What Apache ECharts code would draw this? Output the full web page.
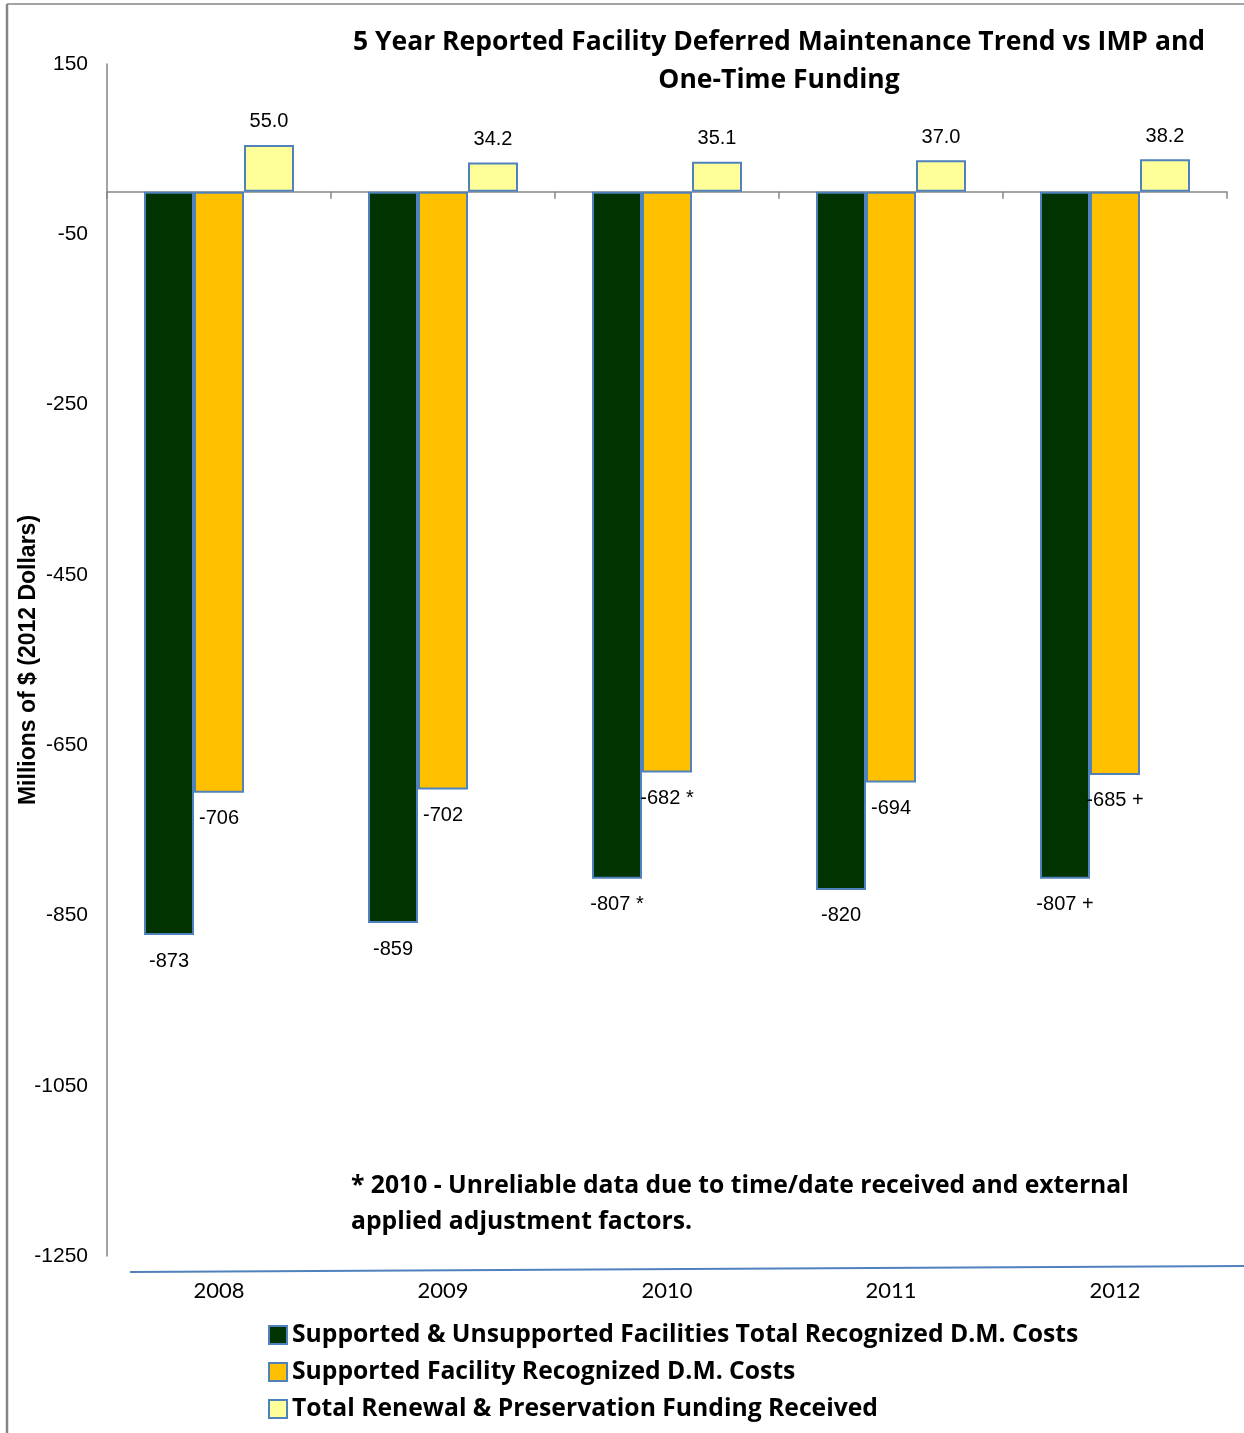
<!DOCTYPE html>
<html>
<head>
<meta charset="utf-8">
<script src="https://cdn.jsdelivr.net/npm/echarts@6/dist/echarts.min.js"></script>
<style>
html,body{margin:0;padding:0;background:#fff;}
#chart{width:1244px;height:1433px;}
</style>
</head>
<body>
<div id="chart"></div>
<script>
const categories = ['2008', '2009', '2010', '2011', '2012'];
const seriesNames = [
  'Supported & Unsupported Facilities Total Recognized D.M. Costs',
  'Supported Facility Recognized D.M. Costs',
  'Total Renewal & Preservation Funding Received'
];
const totalDM = [-873, -859, -807, -820, -807];
const supportedDM = [-706, -702, -682, -694, -685];
const funding = [55.0, 34.2, 35.1, 37.0, 38.2];
const totalDMNotes = ['', '', ' *', '', ' +'];
const supportedDMNotes = ['', '', ' *', '', ' +'];
const yMin = -1250, yMax = 150, yStep = 200;
const titleText = '5 Year Reported Facility Deferred Maintenance Trend vs IMP and\nOne-Time Funding';
const yName = 'Millions of $ (2012 Dollars)';
const footnote = '* 2010 - Unreliable data due to time/date received and external\napplied adjustment factors.';

const BOLD_FONT = 'Open Sans';
const BORDER = '#4F81BD';
const AXIS = '#868686';

const chart = echarts.init(document.getElementById('chart'));

const labelStyle = {fontFamily: 'Liberation Sans, Arial', fontSize: 20, color: '#000'};

chart.setOption({
  backgroundColor: '#fff',
  animation: false,
  title: {
    text: titleText,
    left: 774,
    top: 18,
    textAlign: 'center',
    textStyle: {fontFamily: BOLD_FONT, fontWeight: 'bold', fontSize: 26.5, lineHeight: 38, color: '#000'}
  },
  grid: {left: 107, top: 64, right: 17, bottom: 177, containLabel: false, outerBoundsMode: 'none'},
  legend: {
    orient: 'vertical',
    left: 268,
    top: 1320,
    padding: 0,
    itemWidth: 18,
    itemHeight: 18,
    itemGap: 7,
    icon: 'rect',
    data: seriesNames,
    textStyle: {fontFamily: BOLD_FONT, fontWeight: 'bold', fontSize: 24.7, lineHeight: 30, color: '#000'}
  },
  xAxis: [
    {
      type: 'category',
      data: categories,
      position: 'bottom',
      axisLine: {onZero: true, lineStyle: {color: AXIS, width: 1.5}},
      axisTick: {show: true, length: 7, lineStyle: {color: AXIS, width: 1.5}},
      axisLabel: {show: false},
      splitLine: {show: false}
    },
    {
      type: 'category',
      data: categories,
      position: 'bottom',
      axisLine: {show: false, onZero: false},
      axisTick: {show: false},
      axisLabel: {show: true, margin: 24, fontFamily: 'Lato', fontSize: 22, color: '#000'},
      splitLine: {show: false}
    }
  ],
  yAxis: {
    type: 'value',
    min: yMin,
    max: yMax,
    interval: yStep,
    name: yName,
    nameLocation: 'middle',
    nameGap: 67,
    nameMoveOverlap: false,
    nameTextStyle: {fontFamily: 'Liberation Sans, Arial', fontWeight: 'bold', fontSize: 23, color: '#000'},
    axisLine: {show: true, lineStyle: {color: AXIS, width: 1.5}},
    axisTick: {show: false},
    splitLine: {show: false},
    axisLabel: {margin: 19, fontFamily: 'Liberation Sans, Arial', fontSize: 21, color: '#000', formatter: v => String(v)}
  },
  series: [
    {
      name: seriesNames[0],
      type: 'bar',
      data: totalDM,
      barWidth: 50,
      barGap: '0%',
      itemStyle: {color: '#003300', borderColor: BORDER, borderWidth: 2},
      label: {
        show: true, position: 'bottom', distance: 16, ...labelStyle,
        formatter: p => p.value + totalDMNotes[p.dataIndex]
      }
    },
    {
      name: seriesNames[1],
      type: 'bar',
      data: supportedDM,
      barWidth: 50,
      barGap: '0%',
      itemStyle: {color: '#FFC000', borderColor: BORDER, borderWidth: 2},
      label: {
        show: true, position: 'bottom', distance: 16, ...labelStyle,
        formatter: p => p.value + supportedDMNotes[p.dataIndex]
      }
    },
    {
      name: seriesNames[2],
      type: 'bar',
      data: funding,
      barWidth: 50,
      barGap: '0%',
      itemStyle: {color: '#FFFF99', borderColor: BORDER, borderWidth: 2},
      label: {
        show: true, position: 'top', distance: 13, ...labelStyle,
        formatter: p => Number(p.value).toFixed(1)
      }
    }
  ],
  graphic: [
    {type: 'line', shape: {x1: 7, y1: 4, x2: 1244, y2: 4}, style: {stroke: AXIS, lineWidth: 1.5}, silent: true},
    {type: 'line', shape: {x1: 7, y1: 4, x2: 7, y2: 1433}, style: {stroke: AXIS, lineWidth: 2.5}, silent: true},
    {type: 'line', shape: {x1: 130, y1: 1272, x2: 1244, y2: 1266}, style: {stroke: BORDER, lineWidth: 2}, silent: true},
    {
      type: 'text', left: 351, top: 1168, silent: true,
      style: {text: footnote, fontFamily: BOLD_FONT, fontWeight: 'bold', fontSize: 24.7, lineHeight: 36, fill: '#000'}
    }
  ]
});
</script>
</body>
</html>
